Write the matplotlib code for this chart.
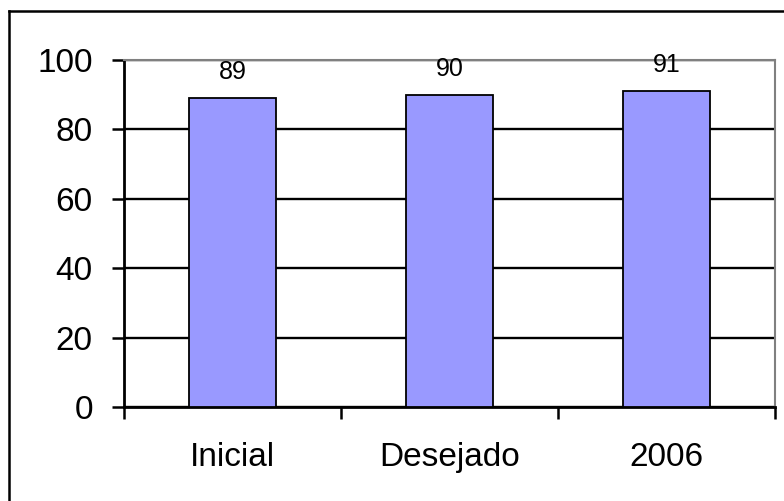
import matplotlib.pyplot as plt
from matplotlib.lines import Line2D

# ==========================================
# DATA
# ==========================================

categories = ["Inicial", "Desejado", "2006"]
values = [89, 90, 91]
y_ticks = [0, 20, 40, 60, 80, 100]

plt.rcParams["font.family"] = ["Liberation Sans", "DejaVu Sans"]

# ==========================================
# FIGURE
# ==========================================

fig = plt.figure(figsize=(7.84, 5.01), dpi=100)
ax = fig.add_axes([124 / 784, 94 / 501, 651 / 784, 347 / 501])

x = range(len(categories))
bars = ax.bar(x, values, width=0.4, color="#9999FF",
              edgecolor="black", linewidth=1.3, zorder=3)

for b, v in zip(bars, values):
    ax.annotate(str(v), (b.get_x() + b.get_width() / 2, v),
                xytext=(0, 13.5), textcoords="offset points",
                ha="center", va="baseline", fontsize=18, zorder=4)

ax.set_xlim(-0.5, len(categories) - 0.5)
ax.set_ylim(0, 100)
ax.set_yticks(y_ticks)
ax.tick_params(axis="y", labelsize=24, length=8.5, width=1.8,
               direction="out", pad=14)

# category boundaries get the tick marks, centres get the labels
ax.set_xticks([i - 0.5 for i in range(len(categories) + 1)])
ax.set_xticklabels([])
ax.set_xticks(list(x), minor=True)
ax.set_xticklabels(categories, minor=True)
ax.tick_params(axis="x", which="major", length=8.5, width=1.8, direction="out")
ax.tick_params(axis="x", which="minor", length=0, labelsize=24, pad=25)

ax.yaxis.grid(True, color="black", linewidth=1.7, zorder=1)
ax.set_axisbelow(True)

ax.spines["left"].set_linewidth(2)
ax.spines["bottom"].set_linewidth(2)
ax.spines["top"].set_color("#808080")
ax.spines["right"].set_color("#808080")
ax.spines["top"].set_linewidth(1.5)
ax.spines["right"].set_linewidth(1.5)

# chart area frame (top and left edges)
fig.add_artist(Line2D([8.5 / 784, 1.0], [1 - 10.5 / 501] * 2,
                      transform=fig.transFigure, color="black", linewidth=1.8))
fig.add_artist(Line2D([8.5 / 784] * 2, [0.0, 1 - 10.5 / 501],
                      transform=fig.transFigure, color="black", linewidth=1.8))

plt.savefig("out.png", dpi=100)
plt.close()
